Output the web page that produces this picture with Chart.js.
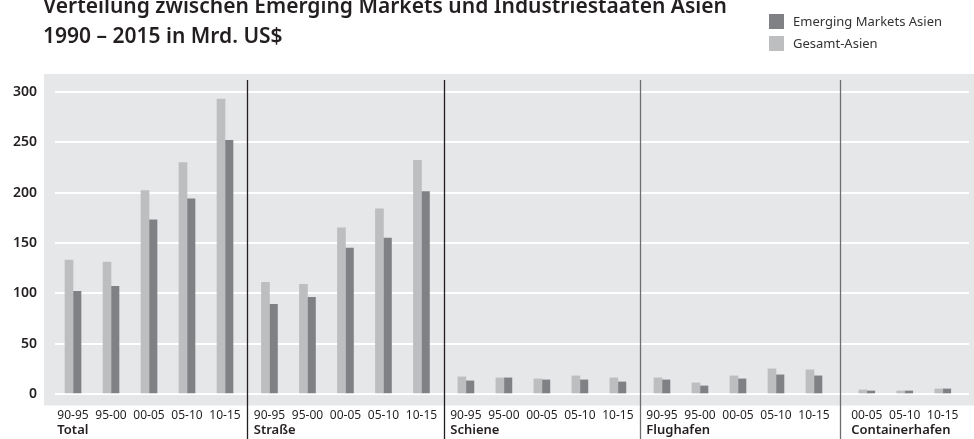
<!DOCTYPE html>
<html>
<head>
<meta charset="utf-8">
<script src="https://cdn.jsdelivr.net/npm/chart.js@4"></script>
<style>
  html, body { margin: 0; padding: 0; background: #fff; }
  #wrap { width: 974px; height: 439px; position: relative; }
</style>
</head>
<body>
<div id="wrap"><canvas id="asienChart" width="974" height="439"></canvas></div>
<script>
// Values (Mrd. US$)
const groups = ['Total', 'Straße', 'Schiene', 'Flughafen', 'Containerhafen'];
const periodsFull = ['90-95', '95-00', '00-05', '05-10', '10-15'];
const periodsContainer = ['00-05', '05-10', '10-15'];
const gesamtAsien = [133, 131, 202, 230, 293, 111, 109, 165, 184, 232, 17, 16, 15, 18, 16, 16, 11, 18, 25, 24, 4, 3, 5];
const emergingAsien = [102, 107, 173, 194, 252, 89, 96, 145, 155, 201, 13, 16, 14, 14, 12, 14, 8, 15, 19, 18, 3, 3, 5];
const yTicks = [0, 50, 100, 150, 200, 250, 300];

// layout: where each group starts on the x scale (in bar-slot units)
const groupStart = [0, 5.17, 10.34, 15.5, 20.89];
const groupPeriods = [periodsFull, periodsFull, periodsFull, periodsFull, periodsContainer];

const xPos = [];
const xLabels = [];
const groupFirst = [];
groupPeriods.forEach((periods, g) => {
    groupFirst.push(xPos.length);
    periods.forEach((p, i) => {
        xPos.push(groupStart[g] + i);
        xLabels.push(p);
    });
});

const textColor = '#231f20';
Chart.defaults.font.family = "'Noto Sans', sans-serif";
Chart.defaults.color = textColor;

const decor = {
    id: 'decor',
    beforeDraw(chart) {
        const ctx = chart.ctx;
        ctx.save();
        ctx.fillStyle = '#e6e7e8';
        ctx.fillRect(44, 74, 930, 331.5);
        ctx.restore();
    },
    afterDraw(chart) {
        const ctx = chart.ctx;
        const x = chart.scales.x;
        ctx.save();

        // title
        ctx.fillStyle = textColor;
        ctx.font = "600 21px 'Noto Sans'";
        ctx.textBaseline = 'alphabetic';
        ctx.textAlign = 'left';
        ctx.fillText('Verteilung zwischen Emerging Markets und Industriestaaten Asien', 43, 13);
        ctx.fillText('1990 – 2015 in Mrd. US$', 43, 43);

        // legend
        const items = [
            { label: chart.data.datasets[1].label, color: chart.data.datasets[1].backgroundColor },
            { label: chart.data.datasets[0].label, color: chart.data.datasets[0].backgroundColor }
        ];
        ctx.font = "13px 'Noto Sans'";
        ctx.textBaseline = 'middle';
        items.forEach((it, i) => {
            const y = 14 + i * 22;
            ctx.fillStyle = it.color;
            ctx.fillRect(769, y, 15, 15);
            ctx.fillStyle = '#333';
            ctx.fillText(it.label, 793, y + 8);
        });

        // group dividers
        const divColors = ['#231f20', '#231f20', '#6d6e71', '#6d6e71'];
        for (let g = 1; g < groups.length; g++) {
            const prevLast = xPos[groupFirst[g] - 1];
            const next = xPos[groupFirst[g]];
            const px = Math.round(x.getPixelForValue((prevLast + next) / 2)) + 0.5;
            ctx.strokeStyle = divColors[g - 1];
            ctx.lineWidth = 1.3;
            ctx.beginPath();
            ctx.moveTo(px, 80);
            ctx.lineTo(px, 439);
            ctx.stroke();
        }

        // group names, left-aligned under the first period label
        ctx.fillStyle = textColor;
        ctx.textBaseline = 'alphabetic';
        groups.forEach((name, g) => {
            const idx = groupFirst[g];
            ctx.font = "12px 'Noto Sans'";
            const w = ctx.measureText(xLabels[idx]).width;
            const left = x.getPixelForValue(xPos[idx]) - w / 2;
            ctx.font = "600 13px 'Noto Sans'";
            ctx.fillText(name, left, 434);
        });
        ctx.restore();
    }
};

new Chart(document.getElementById('asienChart'), {
    type: 'bar',
    data: {
        labels: xPos,
        datasets: [{
            label: 'Gesamt-Asien',
            data: gesamtAsien,
            backgroundColor: '#bdbec0',
            barThickness: 8
        }, {
            label: 'Emerging Markets Asien',
            data: emergingAsien,
            backgroundColor: '#808184',
            barThickness: 8
        }]
    },
    options: {
        responsive: false,
        animation: false,
        layout: { padding: { top: 92, right: 5, left: 0, bottom: 0 } },
        plugins: {
            legend: { display: false },
            title: { display: false },
            tooltip: { enabled: false }
        },
        scales: {
            x: {
                type: 'linear',
                offset: false,
                min: -0.474,
                max: 23.58,
                grid: { display: false },
                border: { display: false },
                afterBuildTicks: (scale) => {
                    scale.ticks = xPos.map(v => ({ value: v }));
                },
                afterFit: (scale) => { scale.height = 45; },
                ticks: {
                    autoSkip: false,
                    maxRotation: 0,
                    minRotation: 0,
                    padding: 6,
                    color: textColor,
                    font: { size: 12 },
                    callback: (value, index) => xLabels[index]
                }
            },
            y: {
                min: 0,
                max: 300,
                afterBuildTicks: (scale) => {
                    scale.ticks = yTicks.map(v => ({ value: v }));
                },
                afterFit: (scale) => { scale.width = 55; },
                grid: { color: '#ffffff', lineWidth: 2, drawTicks: false },
                border: { display: false },
                ticks: {
                    padding: 18,
                    color: textColor,
                    font: { size: 14, weight: '600' }
                }
            }
        }
    },
    plugins: [decor]
});
</script>
</body>
</html>
